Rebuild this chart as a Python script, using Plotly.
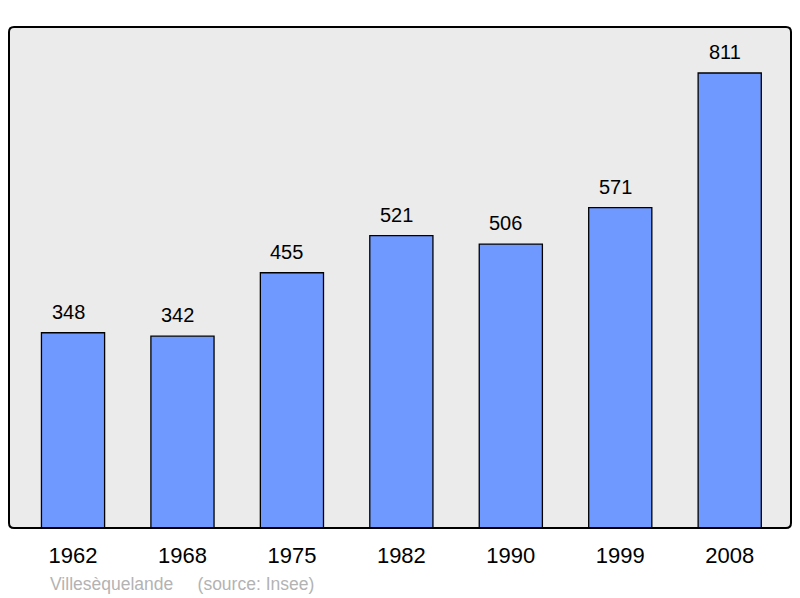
import plotly.graph_objects as go

years = ["1962", "1968", "1975", "1982", "1990", "1999", "2008"]
population = [348, 342, 455, 521, 506, 571, 811]
caption = "Villesèquelande&nbsp;&nbsp;&nbsp;&nbsp;&nbsp;(source: Insee)"

# page body has an 8px margin, so the figure is drawn 8px in from the window corner
W, H = 792, 590
ml, mr, mt, mb = 1, 9, 19, 70
pw, ph = W - ml - mr, H - mt - mb

FONT = "Liberation Sans, Arial"

fig = go.Figure()
fig.add_trace(go.Bar(
    x=list(range(len(years))), y=population,
    width=0.577,
    marker=dict(color="#7099ff", line=dict(color="black", width=1.3)),
    hoverinfo="skip",
))

for i, v in enumerate(population):
    fig.add_annotation(x=i, y=v, text=str(v), showarrow=False,
                       yanchor="bottom", yshift=8, xshift=-5,
                       font=dict(family=FONT, size=20, color="black"))

# rounded frame
r = 5
rx, ry = r / pw, r / ph
path = (f"M {rx},0 L {1-rx},0 Q 1,0 1,{ry} L 1,{1-ry} Q 1,1 {1-rx},1 "
        f"L {rx},1 Q 0,1 0,{1-ry} L 0,{ry} Q 0,0 {rx},0 Z")
fig.add_shape(type="path", xref="paper", yref="paper", path=path,
              line=dict(color="black", width=2), layer="above")

fig.add_annotation(xref="paper", yref="paper", x=(40 - ml) / pw, y=-(576 - mt - ph) / ph,
                   xanchor="left", yanchor="middle", showarrow=False, text=caption,
                   font=dict(family=FONT, size=17.5, color="#b3b3b3"))

fig.update_layout(
    width=W, height=H,
    margin=dict(l=ml, r=mr, t=mt, b=mb),
    paper_bgcolor="white", plot_bgcolor="#ebebeb",
    showlegend=False,
    xaxis=dict(range=[-0.585, 6.56], tickmode="array", tickvals=list(range(len(years))),
               ticktext=years, showgrid=False, zeroline=False, showline=False,
               ticks="", tickfont=dict(family=FONT, size=22, color="black"),
               ticklabelstandoff=12),
    yaxis=dict(range=[0, 893], visible=False, showgrid=False, zeroline=False),
)

fig.write_html("out.html")
